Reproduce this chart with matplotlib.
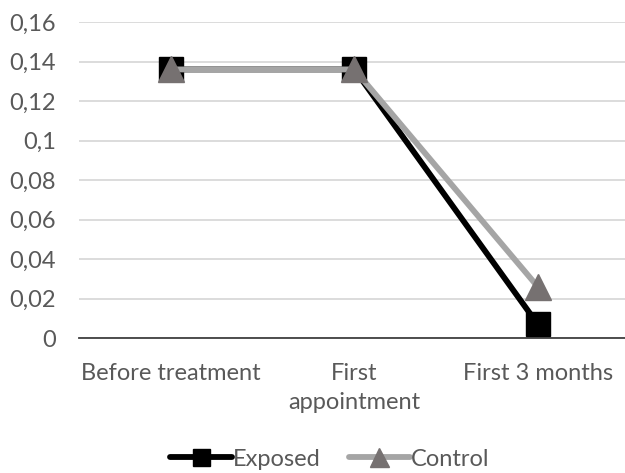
import matplotlib
matplotlib.use("Agg")
import matplotlib.pyplot as plt
from matplotlib.ticker import FuncFormatter

plt.rcParams['font.family'] = ['Lato', 'DejaVu Sans']

categories = ["Before treatment", "First\nappointment", "First 3 months"]
exposed = [0.136, 0.136, 0.007]
control = [0.136, 0.136, 0.026]
yticks = [0, 0.02, 0.04, 0.06, 0.08, 0.1, 0.12, 0.14, 0.16]

fig = plt.figure(figsize=(6.25, 4.73), dpi=100)
ax = fig.add_axes([0.127, 0.2854, 0.88, 0.668])

x = list(range(len(categories)))
ax.plot(x, exposed, color='black', linewidth=4.2, marker='s', markersize=17,
        markerfacecolor='black', markeredgecolor='black', label='Exposed',
        solid_capstyle='round', zorder=3)
ax.plot(x, control, color='#a5a5a5', linewidth=4.2, marker='^', markersize=19,
        markerfacecolor='#767171', markeredgecolor='#767171', label='Control',
        solid_capstyle='round', zorder=4)

ax.set_xlim(-0.5, 2.5)
ax.set_ylim(0, 0.16)
ax.set_yticks(yticks)
ax.yaxis.set_major_formatter(FuncFormatter(lambda v, p: ('%g' % round(v, 2)).replace('.', ',')))
ax.set_xticks(x)
ax.set_xticklabels(categories, linespacing=1.45)
ax.grid(axis='y', color='#d9d9d9', linewidth=1.3)
ax.set_axisbelow(True)
for s in ['top', 'right', 'left']:
    ax.spines[s].set_visible(False)
ax.spines['bottom'].set_color('#404040')
ax.spines['bottom'].set_linewidth(1.3)
ax.tick_params(axis='both', length=0, labelsize=17, colors='#595959')
ax.tick_params(axis='x', pad=18)
ax.tick_params(axis='y', pad=17)

fig.legend(loc='center', bbox_to_anchor=(330 / 625, 1 - 459 / 473), ncol=2, frameon=False,
           fontsize=17, labelcolor='#595959', handlelength=2.6, handletextpad=0.05,
           columnspacing=1.2, markerscale=0.72)

fig.savefig('out.png', dpi=100)
